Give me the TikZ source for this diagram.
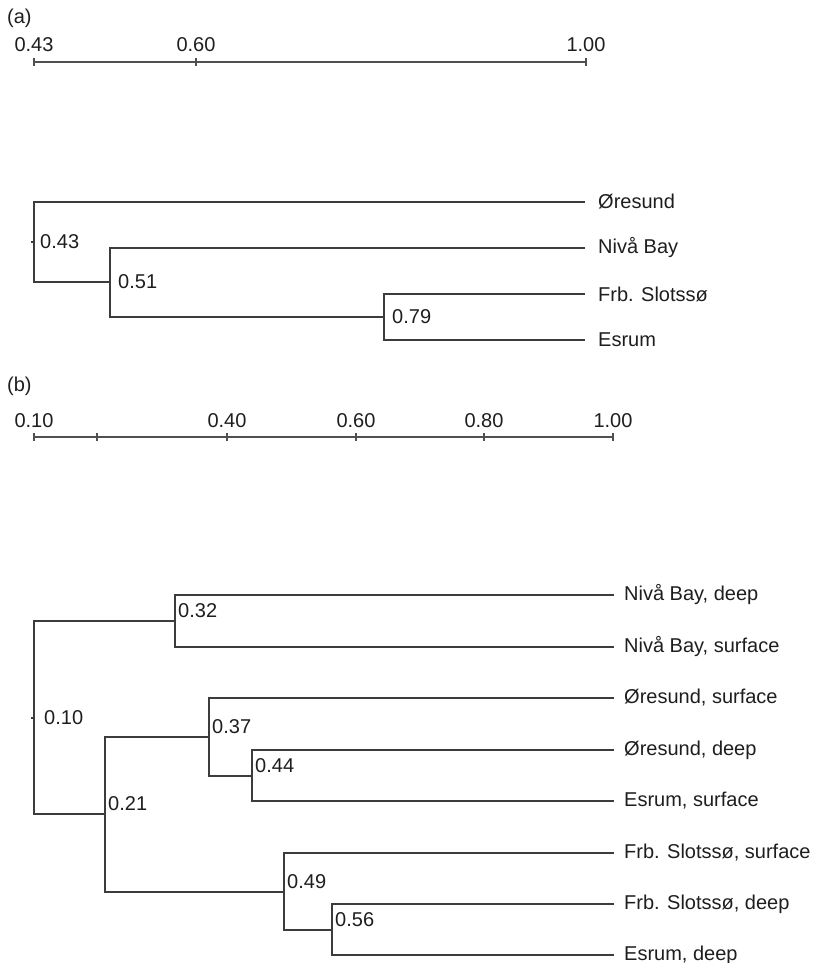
\documentclass[tikz,border=0pt]{standalone}
\usepackage{fontspec}
\setmainfont{Liberation Sans}
\definecolor{branch}{HTML}{3C3C3C}
\definecolor{ruler}{HTML}{505050}
\definecolor{ink}{HTML}{1E1E1E}

\begin{document}
\begin{tikzpicture}[x=1pt,y=-1pt,font=\fontsize{20}{24}\selectfont,text=ink,
  link/.style={draw=branch,line width=1.8pt,line join=miter},
  leaf/.style={anchor=west,inner ysep=0pt},
  val/.style={anchor=west,inner sep=0pt}]
  \useasboundingbox (0,0) rectangle (817,963);

  % (a) scale bar: x = 34 + (v-0.43)*968
  \node[anchor=west,inner sep=0pt] (taga) at (7,18) {(a)};
  \coordinate (sa0) at (34,62);
  \coordinate (sa1) at (586,62);
  \draw[ruler,line width=1.8pt] (sa0) -- (sa1);
  \foreach \x/\lab in {34/0.43,196/0.60,586/1.00} {
    \draw[ruler,line width=1.5pt] (\x,58) -- (\x,66);
    \node at (\x,45) {\lab};
  }

  % (a) tree
  \coordinate (a43) at (34,242);
  \coordinate (a51) at (110,282);
  \coordinate (a79) at (384,317);
  \node[leaf,inner xsep=13pt] (oresund) at (585,202) {Øresund};
  \node[leaf,inner xsep=13pt] (nivaa) at (585,248) {Nivå Bay};
  \node[leaf,inner xsep=13pt] (frb) at (585,294) {Frb. Slotssø};
  \node[leaf,inner xsep=13pt] (esrum) at (585,340) {Esrum};
  \draw[link] (a43) -- ++(-3,0);
  \draw[link] (oresund.west) -| (a43) |- (a51);
  \draw[link] (nivaa.west) -| (a51) |- (a79);
  \draw[link] (frb.west) -| (a79) |- (esrum.west);
  \node[val,xshift=6pt] (va43) at (a43) {0.43};
  \node[val,xshift=8pt] (va51) at (a51) {0.51};
  \node[val,xshift=8pt] (va79) at (a79) {0.79};

  % (b) scale bar: x = 34 + (v-0.10)*643
  \node[anchor=west,inner sep=0pt] (tagb) at (7,386) {(b)};
  \coordinate (sb0) at (34,437);
  \coordinate (sb1) at (613,437);
  \draw[ruler,line width=1.8pt] (sb0) -- (sb1);
  \foreach \x/\lab in {34/0.10,97/,227/0.40,356/0.60,484/0.80,613/1.00} {
    \draw[ruler,line width=1.5pt] (\x,433) -- (\x,441);
    \node at (\x,421) {\lab};
  }

  % (b) tree
  \coordinate (b10) at (34,718);
  \coordinate (b32) at (175,621);
  \coordinate (b21) at (105,814);
  \coordinate (b37) at (209,737);
  \coordinate (b44) at (252,776);
  \coordinate (b49) at (284,892);
  \coordinate (b56) at (332,930);
  \node[leaf,inner xsep=10pt] (nbdeep) at (614,595) {Nivå Bay, deep};
  \node[leaf,inner xsep=10pt] (nbsurf) at (614,647) {Nivå Bay, surface};
  \node[leaf,inner xsep=10pt] (orsurf) at (614,698) {Øresund, surface};
  \node[leaf,inner xsep=10pt] (ordeep) at (614,750) {Øresund, deep};
  \node[leaf,inner xsep=10pt] (essurf) at (614,801) {Esrum, surface};
  \node[leaf,inner xsep=10pt] (fssurf) at (614,853) {Frb. Slotssø, surface};
  \node[leaf,inner xsep=10pt] (fsdeep) at (614,904) {Frb. Slotssø, deep};
  \node[leaf,inner xsep=10pt] (esdeep) at (614,955) {Esrum, deep};
  \draw[link] (b10) -- ++(-3,0);
  \draw[link] (nbdeep.west) -| (b32) |- (nbsurf.west);
  \draw[link] (b32) -| (b10) |- (b21);
  \draw[link] (b37) -| (b21) |- (b49);
  \draw[link] (orsurf.west) -| (b37) |- (b44);
  \draw[link] (ordeep.west) -| (b44) |- (essurf.west);
  \draw[link] (fssurf.west) -| (b49) |- (b56);
  \draw[link] (fsdeep.west) -| (b56) |- (esdeep.west);
  \node[val,xshift=10pt] (vb10) at (b10) {0.10};
  \foreach \n/\lab in {b32/0.32,b21/0.21,b37/0.37,b44/0.44,b49/0.49,b56/0.56} {
    \node[val,xshift=3pt,yshift=10pt] (v\n) at (\n) {\lab};
  }
\end{tikzpicture}
\end{document}
